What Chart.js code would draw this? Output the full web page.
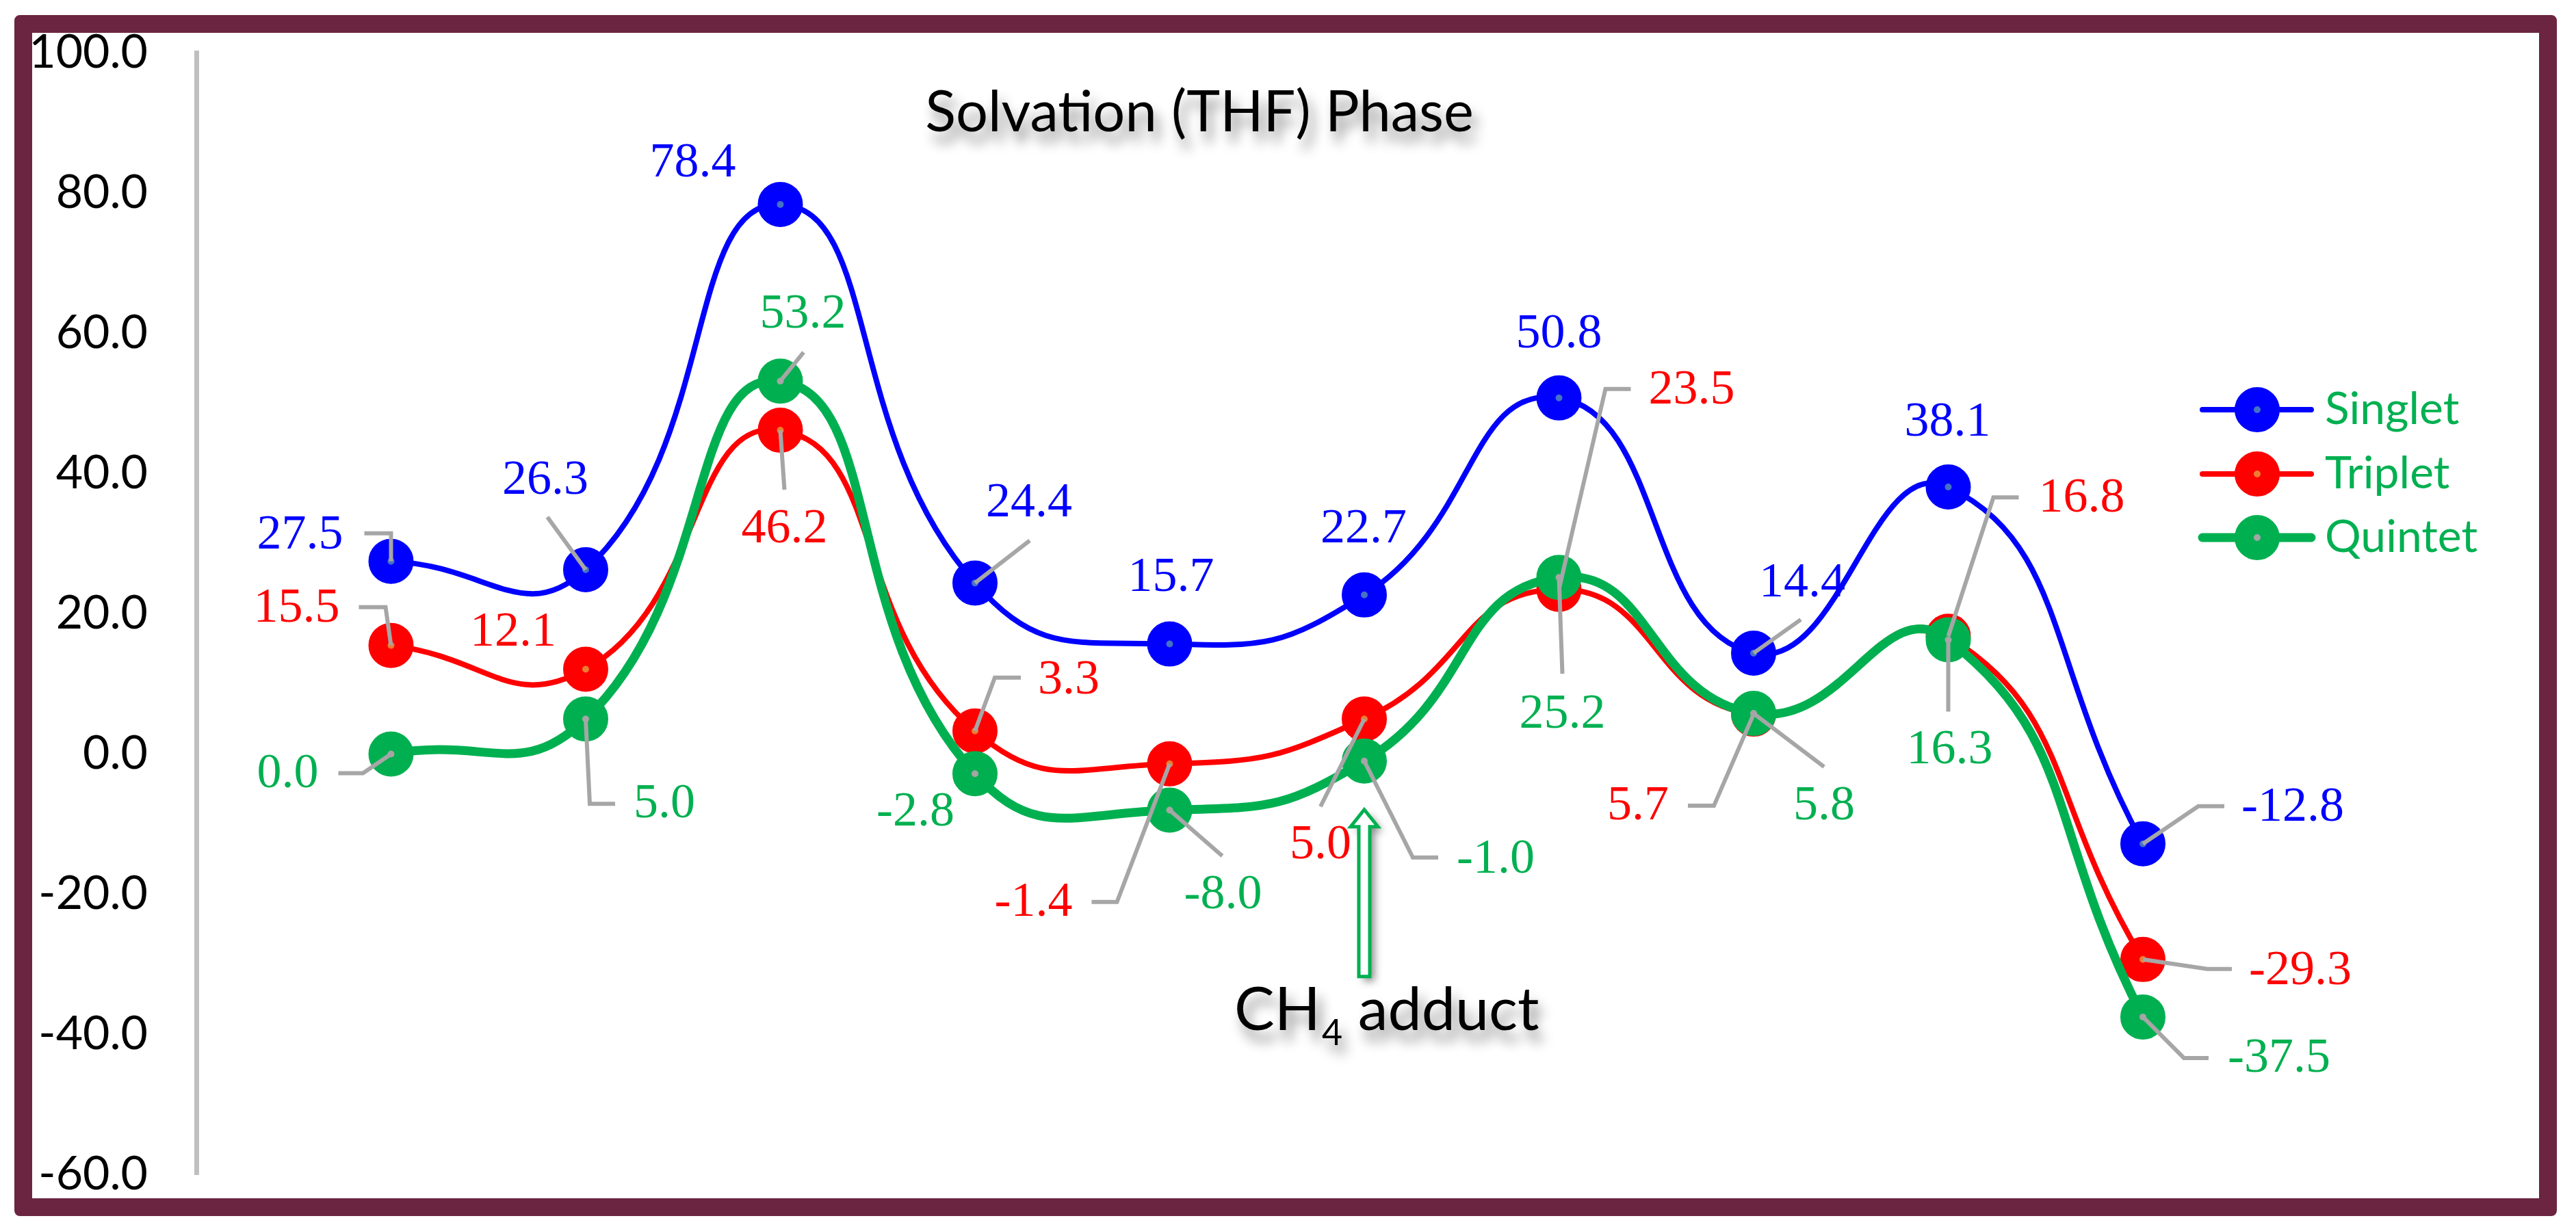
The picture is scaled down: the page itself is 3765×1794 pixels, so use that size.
<!DOCTYPE html>
<html>
<head>
<meta charset="utf-8">
<title>Solvation (THF) Phase</title>
<script src="https://cdn.jsdelivr.net/npm/chart.js@4.4.1/dist/chart.umd.min.js"></script>
<style>
  html, body { margin: 0; padding: 0; background: #fff; }
  #wrap { position: relative; width: 3765px; height: 1794px; }
  #frame {
    position: absolute; left: 21px; top: 22px; width: 3716px; height: 1756px;
    box-sizing: border-box; border: 26px solid #6b2540; border-radius: 8px;
    pointer-events: none;
  }
</style>
</head>
<body>
<div id="wrap">
  <canvas id="energyChart"></canvas>
  <div id="frame"></div>
</div>
<script>
(() => {
  // DATA (relative energies along the path, THF solvation)
  const stages  = [1, 2, 3, 4, 5, 6, 7, 8, 9, 10];
  const singlet = [27.5, 26.3, 78.4, 24.4, 15.7, 22.7, 50.8, 14.4, 38.1, -12.8];
  const triplet = [15.5, 12.1, 46.2, 3.3, -1.4, 5.0, 23.5, 5.7, 16.8, -29.3];
  const quintet = [0.0, 5.0, 53.2, -2.8, -8.0, -1.0, 25.2, 5.8, 16.3, -37.5];
  const yTicks  = [-60, -40, -20, 0, 20, 40, 60, 80, 100];
  const seriesNames = ['Singlet', 'Triplet', 'Quintet'];
  const titleText = 'Solvation (THF) Phase';
  const adductStage = 6; // the CH4 adduct arrow points at this stage

  // STYLE
  const COLORS = ['#0000ff', '#ff0000', '#00b050'];
  const INNER  = ['#4472c4', '#ed7d31', '#a5a5a5'];
  const LINE_W = [8, 8, 13];
  const LEADER = '#a6a6a6';
  const SANS = "Lato, 'Open Sans', sans-serif";
  const LABEL_FONT = "72px 'Liberation Serif'";

  // data label placement, pixel offsets from the point (label centre + leader line)
  const LABEL_LAYOUT = [
    [ // Singlet
      { dx: -133, dy: -38, lead: [[0, -41], [-39, -41]] },
      { dx: -59, dy: -130, lead: [[-56, -77]] },
      { dx: -128, dy: -60 },
      { dx: 79, dy: -116, lead: [[80, -62]] },
      { dx: 2, dy: -96 },
      { dx: -1, dy: -96 },
      { dx: 0, dy: -93 },
      { dx: 71, dy: -102, lead: [[69, -49]] },
      { dx: -1, dy: -94 },
      { dx: 219, dy: -53, lead: [[81, -55], [119, -55]] }
    ],
    [ // Triplet
      { dx: -138, dy: -54, lead: [[-8, -56], [-47, -56]] },
      { dx: -106, dy: -53 },
      { dx: 6, dy: 145, lead: [[6, 87]] },
      { dx: 137, dy: -74, lead: [[29, -78], [67, -78]] },
      { dx: -199, dy: 203, lead: [[-77, 202], [-114, 202]] },
      { dx: -64, dy: 185, lead: [[-64, 128]] },
      { dx: 194, dy: -291, lead: [[68, -293], [105, -293]] },
      { dx: -169, dy: 135, lead: [[-58, 134], [-96, 134]] },
      { dx: 195, dy: -201, lead: [[66, -203], [103, -203]] },
      { dx: 230, dy: 17, lead: [[94, 14], [130, 14]] }
    ],
    [ // Quintet
      { dx: -151, dy: 30, lead: [[-41, 28], [-77, 28]] },
      { dx: 115, dy: 125, lead: [[6, 124], [43, 124]] },
      { dx: 33, dy: -97, lead: [[34, -42]] },
      { dx: -87, dy: 57 },
      { dx: 78, dy: 125, lead: [[77, 67]] },
      { dx: 192, dy: 144, lead: [[71, 141], [108, 141]] },
      { dx: 5, dy: 201, lead: [[5, 141]] },
      { dx: 103, dy: 136, lead: [[103, 78]] },
      { dx: 2, dy: 162, lead: [[0, 105]] },
      { dx: 199, dy: 61, lead: [[60, 60], [96, 60]] }
    ]
  ];

  const seriesValues = [singlet, triplet, quintet];

  function makeDataset(idx) {
    return {
      label: seriesNames[idx],
      data: stages.map((s, i) => ({ x: s, y: seriesValues[idx][i] })),
      borderColor: COLORS[idx],
      borderWidth: LINE_W[idx],
      tension: 0.5,
      pointRadius: 19,
      pointHoverRadius: 19,
      pointBorderWidth: 28,
      pointBorderColor: COLORS[idx],
      pointBackgroundColor: INNER[idx],
      order: 3 - idx, // quintet on top
      clip: false
    };
  }

  // leader lines + value labels
  const valueLabels = {
    id: 'valueLabels',
    afterDatasetsDraw(chart) {
      const ctx = chart.ctx;
      ctx.save();
      ctx.strokeStyle = LEADER;
      ctx.lineWidth = 6;
      chart.data.datasets.forEach((ds, di) => {
        chart.getDatasetMeta(di).data.forEach((pt, i) => {
          const L = LABEL_LAYOUT[di][i];
          if (!L.lead) return;
          ctx.beginPath();
          ctx.moveTo(pt.x, pt.y);
          L.lead.forEach(([dx, dy]) => ctx.lineTo(pt.x + dx, pt.y + dy));
          ctx.stroke();
        });
      });
      ctx.font = LABEL_FONT;
      ctx.textAlign = 'center';
      ctx.textBaseline = 'middle';
      chart.data.datasets.forEach((ds, di) => {
        ctx.fillStyle = COLORS[di];
        chart.getDatasetMeta(di).data.forEach((pt, i) => {
          const L = LABEL_LAYOUT[di][i];
          ctx.fillText(seriesValues[di][i].toFixed(1), pt.x + L.dx, pt.y + L.dy);
        });
      });
      ctx.restore();
    }
  };

  function softShadow(ctx) {
    ctx.shadowColor = 'rgba(0,0,0,0.45)';
    ctx.shadowBlur = 18;
    ctx.shadowOffsetX = 8;
    ctx.shadowOffsetY = 16;
  }

  // title, legend, CH4 adduct arrow
  const decorations = {
    id: 'decorations',
    afterDraw(chart) {
      const ctx = chart.ctx;
      const xs = chart.scales.x;

      // title
      ctx.save();
      ctx.font = '83px ' + SANS;
      ctx.textAlign = 'center';
      ctx.textBaseline = 'alphabetic';
      softShadow(ctx);
      ctx.fillStyle = '#000';
      ctx.fillText(titleText, 1753, 192);
      ctx.restore();

      // legend
      ctx.save();
      const rows = [599, 693, 786];
      seriesNames.forEach((name, i) => {
        const y = rows[i];
        ctx.strokeStyle = COLORS[i];
        ctx.lineWidth = LINE_W[i];
        ctx.lineCap = 'round';
        ctx.beginPath();
        ctx.moveTo(3219, y);
        ctx.lineTo(3378, y);
        ctx.stroke();
        ctx.beginPath();
        ctx.arc(3299, y, 19, 0, Math.PI * 2);
        ctx.fillStyle = INNER[i];
        ctx.fill();
        ctx.lineWidth = 28;
        ctx.stroke();
        ctx.font = '66px ' + SANS;
        ctx.textAlign = 'left';
        ctx.textBaseline = 'middle';
        ctx.fillStyle = '#00b050';
        ctx.fillText(name, 3398, y);
      });
      ctx.restore();

      // hollow arrow pointing at the CH4 adduct (quintet point)
      const qPt = chart.getDatasetMeta(2).data[stages.indexOf(adductStage)];
      const ax = xs.getPixelForValue(adductStage);
      const tip = qPt.y + 71, headBase = tip + 25, bottom = qPt.y + 315;
      ctx.save();
      ctx.shadowColor = 'rgba(0,0,0,0.45)';
      ctx.shadowBlur = 12;
      ctx.shadowOffsetX = 7;
      ctx.shadowOffsetY = 7;
      ctx.beginPath();
      ctx.moveTo(ax, tip);
      ctx.lineTo(ax + 20, headBase);
      ctx.lineTo(ax + 8, headBase);
      ctx.lineTo(ax + 8, bottom);
      ctx.lineTo(ax - 8, bottom);
      ctx.lineTo(ax - 8, headBase);
      ctx.lineTo(ax - 20, headBase);
      ctx.closePath();
      ctx.fillStyle = '#fff';
      ctx.fill();
      ctx.shadowColor = 'transparent';
      ctx.strokeStyle = '#00b050';
      ctx.lineWidth = 5;
      ctx.stroke();
      ctx.restore();

      // "CH4 adduct" caption
      ctx.save();
      softShadow(ctx);
      ctx.fillStyle = '#000';
      ctx.textAlign = 'left';
      ctx.textBaseline = 'alphabetic';
      const base = bottom + 78;
      let cx = ax - 190;
      ctx.font = '88px ' + SANS;
      ctx.fillText('CH', cx, base);
      cx += ctx.measureText('CH').width + 2;
      ctx.font = '52px ' + SANS;
      ctx.fillText('4', cx, base + 22);
      cx += ctx.measureText('4').width;
      ctx.font = '88px ' + SANS;
      ctx.fillText(' adduct', cx, base);
      ctx.restore();
    }
  };

  const canvas = document.getElementById('energyChart');
  new Chart(canvas.getContext('2d'), {
    type: 'line',
    data: { datasets: [0, 1, 2].map(makeDataset) },
    plugins: [valueLabels, decorations],
    options: {
      responsive: true,
      maintainAspectRatio: false,
      animation: false,
      layout: { padding: { left: 47, top: 77.5, right: 348.5, bottom: 76.5 } },
      plugins: {
        legend: { display: false },
        title: { display: false },
        tooltip: { enabled: false }
      },
      scales: {
        x: { type: 'linear', min: 0, max: 11, display: false },
        y: {
          min: -60,
          max: 100,
          afterBuildTicks: s => { s.ticks = yTicks.map(v => ({ value: v })); },
          afterFit: s => {
            s.width = 240;
            // keep the plot area where the frame puts it
            s.paddingTop = 0;
            s.paddingBottom = 0;
          },
          grid: { display: false, drawTicks: false },
          border: { display: true, color: '#bfbfbf', width: 7 },
          ticks: {
            padding: 71,
            color: '#000',
            font: { family: SANS, size: 68 },
            callback: v => Number(v).toFixed(1)
          }
        }
      }
    }
  });
})();
</script>
</body>
</html>
